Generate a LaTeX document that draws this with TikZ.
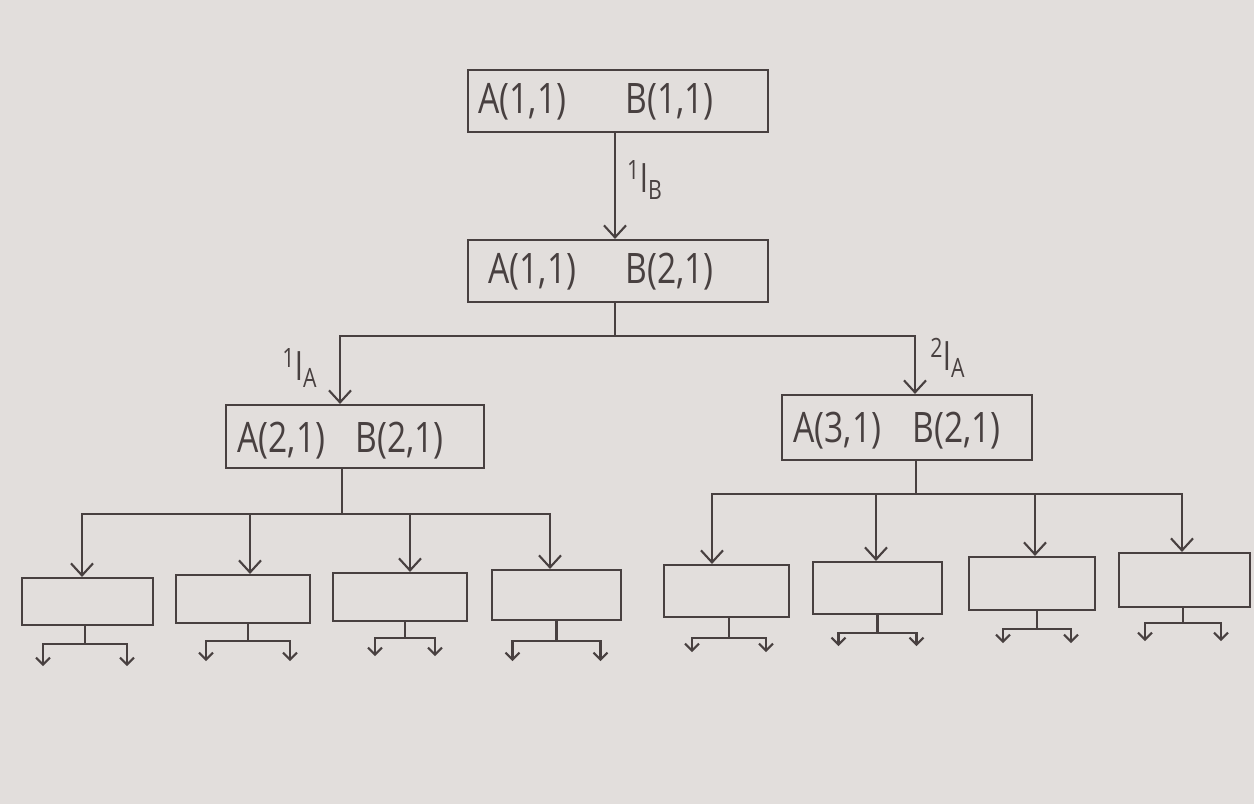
\documentclass[tikz,border=0pt]{standalone}
\usepackage{fontspec}
\setmainfont[FakeStretch=0.8]{Open Sans}
\usetikzlibrary{arrows.meta,calc}
\definecolor{paper}{RGB}{226,222,220}
\definecolor{ink}{RGB}{72,64,64}
\begin{document}
\begin{tikzpicture}[x=0.5pt,y=-0.5pt,
  box/.style={draw=ink, line width=1.05pt, inner sep=0pt},
  wire/.style={draw=ink, line width=1.05pt},
  arr/.style={wire, -{Straight Barb[length=6pt,width=11pt,line width=1.05pt]}},
  tip/.style={wire, -{Straight Barb[length=3.5pt,width=7pt,line width=1.05pt]}},
  txt/.style={text=ink, font=\fontsize{21}{24}\selectfont, inner sep=0pt, anchor=west},
  lab/.style={text=ink, font=\fontsize{19}{22}\selectfont, inner sep=0pt}]
\useasboundingbox (0,0) rectangle (1254,804);
\fill[paper] (0,0) rectangle (1254,804);

% state boxes
\node[box, minimum width=150pt, minimum height=31pt] (top) at (618,101) {};
\node[box, minimum width=150pt, minimum height=31pt] (mid) at (618,271) {};
\node[box, minimum width=129pt, minimum height=31.5pt] (L) at (355,436.5) {};
\node[box, minimum width=125pt, minimum height=32.5pt] (R) at (907,427.5) {};

\node[txt] (t1) at (478,102) {A(1,1)};
\node[txt] (t2) at (625,102) {B(1,1)};
\node[txt] (m1) at (488,272) {A(1,1)};
\node[txt] (m2) at (625,272) {B(2,1)};
\node[txt] (l1) at (237,441) {A(2,1)};
\node[txt] (l2) at (355,441) {B(2,1)};
\node[txt] (r1) at (793,431) {A(3,1)};
\node[txt] (r2) at (912,431) {B(2,1)};

% empty child boxes
\node[box, minimum width=65.5pt, minimum height=23.5pt] (b1) at (87.5,601.5) {};
\node[box, minimum width=67pt,   minimum height=24pt]   (b2) at (243,599) {};
\node[box, minimum width=67pt,   minimum height=24pt]   (b3) at (400,597) {};
\node[box, minimum width=64.5pt, minimum height=25pt]   (b4) at (556.5,595) {};
\node[box, minimum width=62.5pt, minimum height=26pt]   (b5) at (726.5,591) {};
\node[box, minimum width=64.5pt, minimum height=26pt]   (b6) at (877.5,588) {};
\node[box, minimum width=63pt,   minimum height=26.5pt] (b7) at (1032,583.5) {};
\node[box, minimum width=65.5pt, minimum height=27pt]   (b8) at (1184.5,580) {};

% top transition
\draw[arr] ($(top.south)+(-3,0)$) -- ($(mid.north)+(-3,0)$);
\node[lab] (eB) at (645,180) {\textsuperscript{1}l\textsubscript{B}};

% split below the second state
\coordinate (mb) at ($(mid.south)+(-3,33)$);
\draw[wire] ($(mid.south)+(-3,0)$) -- (mb);
\draw[arr] (mb) -| ($(L.north)+(-15,0)$);
\draw[arr] (mb) -| ($(R.north)+(8,0)$);
\node[lab] (eA1) at (300,368) {\textsuperscript{1}l\textsubscript{A}};
\node[lab] (eA2) at (948,358) {\textsuperscript{2}l\textsubscript{A}};

% left fan-out
\coordinate (lb) at ($(L.south)+(-13,45)$);
\draw[wire] ($(L.south)+(-13,0)$) -- (lb);
\foreach \b/\o in {b1/-5.5, b2/7, b3/10, b4/-6.5}
  \draw[arr] (lb) -| ($(\b.north)+(\o,0)$);

% right fan-out
\coordinate (rb) at ($(R.south)+(9,33)$);
\draw[wire] ($(R.south)+(9,0)$) -- (rb);
\foreach \b/\o in {b5/-14.5, b6/-1.5, b7/3, b8/-2.5}
  \draw[arr] (rb) -| ($(\b.north)+(\o,0)$);

% small forks under each child box
\foreach \b/\o/\s/\w/\d in {b1/-2.5/18/42/22, b2/5/17/42/20, b3/5/16/30/18, b4/0/20/44/20,
                            b5/2.5/20/37/14, b6/0/18/39/13, b7/5/18/34/14, b8/-1.5/15/38/18} {
  \draw[wire] ($(\b.south)+(\o,0)$) -- ++(0,\s) coordinate (\b f);
  \draw[tip] (\b f) -- ++(-\w,0) -- ++(0,\d);
  \draw[tip] (\b f) -- ++(\w,0) -- ++(0,\d);
}
\end{tikzpicture}
\end{document}
